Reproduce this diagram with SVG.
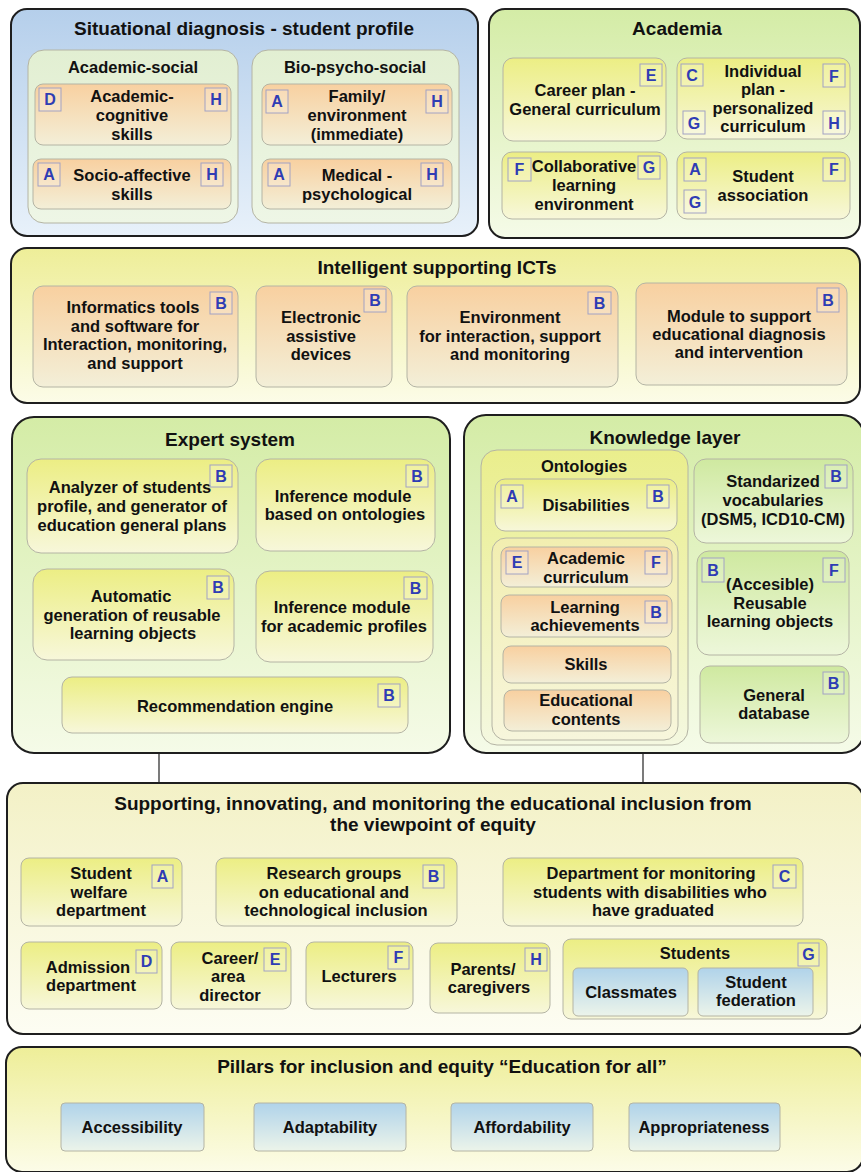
<svg xmlns="http://www.w3.org/2000/svg" width="861" height="1172" viewBox="0 0 861 1172">
  <defs>
    <linearGradient id="gBlue" x1="0" y1="0" x2="0" y2="1"><stop offset="0" stop-color="#b5cfeb"/><stop offset="1" stop-color="#e8f1fa"/></linearGradient>
    <linearGradient id="gPaleGreen" x1="0" y1="0" x2="0" y2="1"><stop offset="0" stop-color="#e2efd2"/><stop offset="1" stop-color="#eef6e6"/></linearGradient>
    <linearGradient id="gOrange" x1="0" y1="0" x2="0" y2="1"><stop offset="0" stop-color="#f8d0a0"/><stop offset="1" stop-color="#f3efd8"/></linearGradient>
    <linearGradient id="gGreen" x1="0" y1="0" x2="0" y2="1"><stop offset="0" stop-color="#d4eca6"/><stop offset="1" stop-color="#f5fbe8"/></linearGradient>
    <linearGradient id="gYellow" x1="0" y1="0" x2="0" y2="1"><stop offset="0" stop-color="#ecee84"/><stop offset="1" stop-color="#f7f7da"/></linearGradient>
    <linearGradient id="gYellowPanel" x1="0" y1="0" x2="0" y2="1"><stop offset="0" stop-color="#eeee98"/><stop offset="1" stop-color="#fcfce8"/></linearGradient>
    <linearGradient id="gPale" x1="0" y1="0" x2="0" y2="1"><stop offset="0" stop-color="#f3f1c6"/><stop offset="1" stop-color="#fdfdf3"/></linearGradient>
    <linearGradient id="gSky" x1="0" y1="0" x2="0" y2="1"><stop offset="0" stop-color="#b0d3ea"/><stop offset="1" stop-color="#ecf4ea"/></linearGradient>
    <linearGradient id="gGreenBox" x1="0" y1="0" x2="0" y2="1"><stop offset="0" stop-color="#cfe9a0"/><stop offset="1" stop-color="#edf7da"/></linearGradient>
    <linearGradient id="gOnto" x1="0" y1="0" x2="0" y2="1"><stop offset="0" stop-color="#eaee8c"/><stop offset="1" stop-color="#f4f8e0"/></linearGradient>
    <linearGradient id="gOntoInner" x1="0" y1="0" x2="0" y2="1"><stop offset="0" stop-color="#f2eeb0"/><stop offset="1" stop-color="#f7f6dc"/></linearGradient>
    <style>
      text { font-family: "Liberation Sans", Arial, sans-serif; font-weight: bold; fill: #111; text-anchor: middle; }
      .panel { stroke: #1e1e1e; stroke-width: 2; }
      .box { stroke: #b4b4a4; stroke-width: 1; }
      .t1 { font-size: 19px; }
      .t2 { font-size: 16.5px; }
      .tx { font-size: 16.5px; }
      .badge { fill: #ffffff; fill-opacity: 0.2; stroke: #a2a2c4; stroke-width: 1; }
      .bl { font-size: 16px; fill: #2f3db4; }
      .link { stroke: #222; stroke-width: 1.2; fill: none; }
    </style>
  </defs>

  <!-- connectors between layers -->
  <g id="connectors">
    <line class="link" x1="159" y1="753" x2="159" y2="783"/>
    <line class="link" x1="643" y1="753" x2="643" y2="783"/>
  </g>

  <!-- Situational diagnosis -->
  <g id="situational">
    <rect class="panel" x="11" y="9" width="467" height="227" rx="16" fill="url(#gBlue)"/>
    <text class="t1" x="244" y="35">Situational diagnosis - student profile</text>
  </g>
  <g id="academic-social">
    <rect class="box" x="28" y="50" width="210" height="173" rx="16" fill="url(#gPaleGreen)"/>
    <text class="t2" x="133" y="73">Academic-social</text>
  </g>
  <g id="academic-cognitive">
    <rect class="box" x="35" y="84" width="196" height="61" rx="8" fill="url(#gOrange)"/>
    <text class="tx" x="132" y="102">Academic-</text>
    <text class="tx" x="132" y="121">cognitive</text>
    <text class="tx" x="132" y="140">skills</text>
    <rect class="badge" x="39" y="88" width="22" height="23"/><text class="bl" x="50" y="105">D</text>
    <rect class="badge" x="205" y="88" width="22" height="23"/><text class="bl" x="216" y="105">H</text>
  </g>
  <g id="socio-affective">
    <rect class="box" x="33" y="159" width="198" height="50" rx="8" fill="url(#gOrange)"/>
    <text class="tx" x="132" y="181">Socio-affective</text>
    <text class="tx" x="132" y="200">skills</text>
    <rect class="badge" x="38" y="163" width="22" height="23"/><text class="bl" x="49" y="180">A</text>
    <rect class="badge" x="201" y="163" width="22" height="23"/><text class="bl" x="212" y="180">H</text>
  </g>
  <g id="bio-psycho-social">
    <rect class="box" x="252" y="50" width="207" height="173" rx="16" fill="url(#gPaleGreen)"/>
    <text class="t2" x="355" y="73">Bio-psycho-social</text>
  </g>
  <g id="family">
    <rect class="box" x="262" y="84" width="190" height="61" rx="8" fill="url(#gOrange)"/>
    <text class="tx" x="357" y="102">Family/</text>
    <text class="tx" x="357" y="121">environment</text>
    <text class="tx" x="357" y="140">(immediate)</text>
    <rect class="badge" x="266" y="90" width="22" height="23"/><text class="bl" x="277" y="107">A</text>
    <rect class="badge" x="426" y="90" width="22" height="23"/><text class="bl" x="437" y="107">H</text>
  </g>
  <g id="medical">
    <rect class="box" x="262" y="159" width="190" height="50" rx="8" fill="url(#gOrange)"/>
    <text class="tx" x="357" y="181">Medical -</text>
    <text class="tx" x="357" y="200">psychological</text>
    <rect class="badge" x="268" y="163" width="22" height="23"/><text class="bl" x="279" y="180">A</text>
    <rect class="badge" x="421" y="163" width="22" height="23"/><text class="bl" x="432" y="180">H</text>
  </g>

  <!-- Academia -->
  <g id="academia">
    <rect class="panel" x="489" y="9" width="371" height="229" rx="16" fill="url(#gGreen)"/>
    <text class="t1" x="677" y="35">Academia</text>
  </g>
  <g id="career-plan">
    <rect class="box" x="503" y="58" width="163" height="83" rx="10" fill="url(#gYellow)"/>
    <text class="tx" x="585" y="96">Career plan -</text>
    <text class="tx" x="585" y="115">General curriculum</text>
    <rect class="badge" x="640" y="64" width="22" height="22"/><text class="bl" x="651" y="81">E</text>
  </g>
  <g id="individual-plan">
    <rect class="box" x="677" y="58" width="173" height="81" rx="10" fill="url(#gYellow)"/>
    <text class="tx" x="763" y="77">Individual</text>
    <text class="tx" x="763" y="95">plan -</text>
    <text class="tx" x="763" y="114">personalized</text>
    <text class="tx" x="763" y="132">curriculum</text>
    <rect class="badge" x="681" y="64" width="22" height="22"/><text class="bl" x="692" y="81">C</text>
    <rect class="badge" x="823" y="64" width="22" height="23"/><text class="bl" x="834" y="82">F</text>
    <rect class="badge" x="683" y="111" width="22" height="23"/><text class="bl" x="694" y="129">G</text>
    <rect class="badge" x="823" y="111" width="22" height="23"/><text class="bl" x="834" y="129">H</text>
  </g>
  <g id="collaborative">
    <rect class="box" x="502" y="152" width="165" height="67" rx="10" fill="url(#gYellow)"/>
    <text class="tx" x="584" y="172">Collaborative</text>
    <text class="tx" x="584" y="191">learning</text>
    <text class="tx" x="584" y="210">environment</text>
    <rect class="badge" x="508" y="158" width="23" height="23"/><text class="bl" x="519.5" y="175">F</text>
    <rect class="badge" x="638" y="156" width="22" height="23"/><text class="bl" x="649" y="173">G</text>
  </g>
  <g id="student-association">
    <rect class="box" x="677" y="152" width="173" height="67" rx="10" fill="url(#gYellow)"/>
    <text class="tx" x="763" y="182">Student</text>
    <text class="tx" x="763" y="201">association</text>
    <rect class="badge" x="684" y="158" width="22" height="23"/><text class="bl" x="695" y="175">A</text>
    <rect class="badge" x="684" y="190" width="22" height="23"/><text class="bl" x="695" y="208">G</text>
    <rect class="badge" x="823" y="158" width="22" height="23"/><text class="bl" x="834" y="175">F</text>
  </g>

  <!-- Intelligent supporting ICTs -->
  <g id="icts">
    <rect class="panel" x="11" y="248" width="849" height="155" rx="16" fill="url(#gYellowPanel)"/>
    <text class="t1" x="437" y="274">Intelligent supporting ICTs</text>
  </g>
  <g id="informatics-tools">
    <rect class="box" x="33" y="286" width="205" height="101" rx="10" fill="url(#gOrange)"/>
    <text class="tx" x="133" y="313">Informatics tools</text>
    <text class="tx" x="135" y="332">and software for</text>
    <text class="tx" x="135" y="350">Interaction, monitoring,</text>
    <text class="tx" x="135" y="369">and support</text>
    <rect class="badge" x="210" y="292" width="22" height="22"/><text class="bl" x="221" y="309">B</text>
  </g>
  <g id="assistive-devices">
    <rect class="box" x="256" y="286" width="136" height="101" rx="10" fill="url(#gOrange)"/>
    <text class="tx" x="321" y="323">Electronic</text>
    <text class="tx" x="321" y="342">assistive</text>
    <text class="tx" x="321" y="360">devices</text>
    <rect class="badge" x="364" y="289" width="22" height="23"/><text class="bl" x="375" y="306">B</text>
  </g>
  <g id="interaction-environment">
    <rect class="box" x="407" y="286" width="211" height="101" rx="10" fill="url(#gOrange)"/>
    <text class="tx" x="510" y="323">Environment</text>
    <text class="tx" x="510" y="342">for interaction, support</text>
    <text class="tx" x="510" y="360">and monitoring</text>
    <rect class="badge" x="588" y="292" width="23" height="22"/><text class="bl" x="599.5" y="309">B</text>
  </g>
  <g id="diagnosis-module">
    <rect class="box" x="636" y="283" width="211" height="102" rx="10" fill="url(#gOrange)"/>
    <text class="tx" x="739" y="322">Module to support</text>
    <text class="tx" x="739" y="340">educational diagnosis</text>
    <text class="tx" x="739" y="358">and intervention</text>
    <rect class="badge" x="817" y="288" width="22" height="24"/><text class="bl" x="828" y="306">B</text>
  </g>

  <!-- Expert system -->
  <g id="expert-system">
    <rect class="panel" x="12" y="417" width="438" height="336" rx="22" fill="url(#gGreen)"/>
    <text class="t1" x="230" y="446">Expert system</text>
  </g>
  <g id="analyzer">
    <rect class="box" x="27" y="459" width="211" height="94" rx="14" fill="url(#gYellow)"/>
    <text class="tx" x="130" y="493">Analyzer of students</text>
    <text class="tx" x="132" y="512">profile, and generator of</text>
    <text class="tx" x="132" y="531">education general plans</text>
    <rect class="badge" x="210" y="465" width="22" height="22"/><text class="bl" x="221" y="482">B</text>
  </g>
  <g id="inference-ontologies">
    <rect class="box" x="256" y="459" width="179" height="92" rx="14" fill="url(#gYellow)"/>
    <text class="tx" x="343" y="502">Inference module</text>
    <text class="tx" x="345" y="520">based on ontologies</text>
    <rect class="badge" x="406" y="465" width="22" height="22"/><text class="bl" x="417" y="482">B</text>
  </g>
  <g id="learning-objects-generation">
    <rect class="box" x="33" y="569" width="201" height="91" rx="14" fill="url(#gYellow)"/>
    <text class="tx" x="131" y="602">Automatic</text>
    <text class="tx" x="132" y="621">generation of reusable</text>
    <text class="tx" x="133" y="639">learning objects</text>
    <rect class="badge" x="207" y="576" width="22" height="23"/><text class="bl" x="218" y="593">B</text>
  </g>
  <g id="inference-academic">
    <rect class="box" x="256" y="571" width="177" height="91" rx="14" fill="url(#gYellow)"/>
    <text class="tx" x="342" y="613">Inference module</text>
    <text class="tx" x="344" y="632">for academic profiles</text>
    <rect class="badge" x="404" y="577" width="23" height="22"/><text class="bl" x="415.5" y="594">B</text>
  </g>
  <g id="recommendation-engine">
    <rect class="box" x="62" y="677" width="346" height="56" rx="10" fill="url(#gYellow)"/>
    <text class="tx" x="235" y="712">Recommendation engine</text>
    <rect class="badge" x="378" y="684" width="22" height="23"/><text class="bl" x="389" y="701">B</text>
  </g>

  <!-- Knowledge layer -->
  <g id="knowledge-layer">
    <rect class="panel" x="464" y="415" width="400" height="338" rx="22" fill="url(#gGreen)"/>
    <text class="t1" x="665" y="444">Knowledge layer</text>
  </g>
  <g id="ontologies">
    <rect class="box" x="481" y="450" width="207" height="295" rx="16" fill="url(#gOnto)"/>
    <text class="t2" x="584" y="472">Ontologies</text>
  </g>
  <g id="disabilities">
    <rect class="box" x="495" y="479" width="182" height="52" rx="10" fill="url(#gYellow)"/>
    <text class="tx" x="586" y="511">Disabilities</text>
    <rect class="badge" x="501" y="485" width="22" height="23"/><text class="bl" x="512" y="502">A</text>
    <rect class="badge" x="647" y="485" width="22" height="23"/><text class="bl" x="658" y="502">B</text>
  </g>
  <g id="academic-ontology">
    <rect class="box" x="492" y="538" width="186" height="202" rx="14" fill="url(#gOntoInner)"/>
  </g>
  <g id="academic-curriculum">
    <rect class="box" x="501" y="547" width="171" height="40" rx="8" fill="url(#gOrange)"/>
    <text class="tx" x="586" y="564">Academic</text>
    <text class="tx" x="586" y="583">curriculum</text>
    <rect class="badge" x="506" y="551" width="22" height="23"/><text class="bl" x="517" y="568">E</text>
    <rect class="badge" x="645" y="551" width="22" height="23"/><text class="bl" x="656" y="568">F</text>
  </g>
  <g id="learning-achievements">
    <rect class="box" x="501" y="595" width="171" height="42" rx="8" fill="url(#gOrange)"/>
    <text class="tx" x="585" y="613">Learning</text>
    <text class="tx" x="585" y="631">achievements</text>
    <rect class="badge" x="645" y="601" width="22" height="22"/><text class="bl" x="656" y="618">B</text>
  </g>
  <g id="skills">
    <rect class="box" x="503" y="646" width="168" height="37" rx="8" fill="url(#gOrange)"/>
    <text class="tx" x="586" y="670">Skills</text>
  </g>
  <g id="educational-contents">
    <rect class="box" x="504" y="690" width="167" height="41" rx="8" fill="url(#gOrange)"/>
    <text class="tx" x="586" y="706">Educational</text>
    <text class="tx" x="586" y="725">contents</text>
  </g>
  <g id="vocabularies">
    <rect class="box" x="694" y="459" width="159" height="84" rx="12" fill="url(#gGreenBox)"/>
    <text class="tx" x="773" y="487">Standarized</text>
    <text class="tx" x="773" y="506">vocabularies</text>
    <text class="tx" x="773" y="525">(DSM5, ICD10-CM)</text>
    <rect class="badge" x="825" y="465" width="22" height="23"/><text class="bl" x="836" y="482">B</text>
  </g>
  <g id="reusable-objects">
    <rect class="box" x="697" y="551" width="152" height="104" rx="12" fill="url(#gGreenBox)"/>
    <text class="tx" x="770" y="590">(Accesible)</text>
    <text class="tx" x="770" y="609">Reusable</text>
    <text class="tx" x="770" y="627">learning objects</text>
    <rect class="badge" x="702" y="558" width="22" height="24"/><text class="bl" x="713" y="576">B</text>
    <rect class="badge" x="823" y="558" width="22" height="24"/><text class="bl" x="834" y="576">F</text>
  </g>
  <g id="general-database">
    <rect class="box" x="700" y="666" width="149" height="77" rx="10" fill="url(#gGreenBox)"/>
    <text class="tx" x="774" y="701">General</text>
    <text class="tx" x="774" y="719">database</text>
    <rect class="badge" x="823" y="672" width="21" height="22"/><text class="bl" x="833.5" y="689">B</text>
  </g>

  <!-- Supporting the educational inclusion -->
  <g id="supporting">
    <rect class="panel" x="7" y="783" width="856" height="251" rx="16" fill="url(#gPale)"/>
    <text class="t1" x="433" y="810">Supporting, innovating, and monitoring the educational inclusion from</text>
    <text class="t1" x="433" y="831">the viewpoint of equity</text>
  </g>
  <g id="student-welfare">
    <rect class="box" x="21" y="858" width="161" height="68" rx="8" fill="url(#gYellow)"/>
    <text class="tx" x="101" y="879">Student</text>
    <text class="tx" x="99" y="898">welfare</text>
    <text class="tx" x="101" y="916">department</text>
    <rect class="badge" x="152" y="865" width="21" height="23"/><text class="bl" x="162.5" y="882">A</text>
  </g>
  <g id="research-groups">
    <rect class="box" x="216" y="858" width="241" height="68" rx="8" fill="url(#gYellow)"/>
    <text class="tx" x="334" y="879">Research groups</text>
    <text class="tx" x="334" y="898">on educational and</text>
    <text class="tx" x="336" y="916">technological inclusion</text>
    <rect class="badge" x="423" y="865" width="21" height="23"/><text class="bl" x="433.5" y="882">B</text>
  </g>
  <g id="graduates-department">
    <rect class="box" x="503" y="858" width="300" height="68" rx="8" fill="url(#gYellow)"/>
    <text class="tx" x="651" y="879">Department for monitoring</text>
    <text class="tx" x="650" y="898">students with disabilities who</text>
    <text class="tx" x="653" y="916">have graduated</text>
    <rect class="badge" x="773" y="865" width="23" height="23"/><text class="bl" x="784.5" y="882">C</text>
  </g>
  <g id="admission">
    <rect class="box" x="21" y="942" width="141" height="67" rx="8" fill="url(#gYellow)"/>
    <text class="tx" x="88" y="973">Admission</text>
    <text class="tx" x="91" y="991">department</text>
    <rect class="badge" x="136" y="950" width="21" height="23"/><text class="bl" x="146.5" y="967">D</text>
  </g>
  <g id="career-director">
    <rect class="box" x="171" y="942" width="120" height="67" rx="8" fill="url(#gYellow)"/>
    <text class="tx" x="230" y="964">Career/</text>
    <text class="tx" x="228" y="982">area</text>
    <text class="tx" x="230" y="1001">director</text>
    <rect class="badge" x="264" y="948" width="22" height="23"/><text class="bl" x="275" y="965">E</text>
  </g>
  <g id="lecturers">
    <rect class="box" x="306" y="942" width="107" height="67" rx="8" fill="url(#gYellow)"/>
    <text class="tx" x="359" y="982">Lecturers</text>
    <rect class="badge" x="388" y="946" width="21" height="23"/><text class="bl" x="398.5" y="963">F</text>
  </g>
  <g id="parents">
    <rect class="box" x="430" y="943" width="120" height="70" rx="8" fill="url(#gYellow)"/>
    <text class="tx" x="483" y="975">Parents/</text>
    <text class="tx" x="489" y="993">caregivers</text>
    <rect class="badge" x="525" y="948" width="22" height="23"/><text class="bl" x="536" y="965">H</text>
  </g>
  <g id="students">
    <rect class="box" x="563" y="939" width="264" height="80" rx="8" fill="url(#gYellow)"/>
    <text class="tx" x="695" y="959">Students</text>
    <rect class="badge" x="798" y="943" width="21" height="23"/><text class="bl" x="808.5" y="960">G</text>
  </g>
  <g id="classmates">
    <rect class="box" x="573" y="968" width="115" height="48" rx="5" fill="url(#gSky)"/>
    <text class="tx" x="631" y="998">Classmates</text>
  </g>
  <g id="student-federation">
    <rect class="box" x="698" y="968" width="115" height="48" rx="5" fill="url(#gSky)"/>
    <text class="tx" x="756" y="988">Student</text>
    <text class="tx" x="756" y="1006">federation</text>
  </g>

  <!-- Pillars -->
  <g id="pillars">
    <rect class="panel" x="6" y="1047" width="857" height="125" rx="16" fill="url(#gYellowPanel)"/>
    <text class="t1" x="442" y="1073">Pillars for inclusion and equity “Education for all”</text>
  </g>
  <g id="accessibility">
    <rect class="box" x="61" y="1103" width="143" height="48" rx="4" fill="url(#gSky)"/>
    <text class="tx" x="132" y="1133">Accessibility</text>
  </g>
  <g id="adaptability">
    <rect class="box" x="254" y="1103" width="152" height="48" rx="4" fill="url(#gSky)"/>
    <text class="tx" x="330" y="1133">Adaptability</text>
  </g>
  <g id="affordability">
    <rect class="box" x="451" y="1103" width="142" height="48" rx="4" fill="url(#gSky)"/>
    <text class="tx" x="522" y="1133">Affordability</text>
  </g>
  <g id="appropriateness">
    <rect class="box" x="629" y="1103" width="151" height="48" rx="4" fill="url(#gSky)"/>
    <text class="tx" x="704" y="1133">Appropriateness</text>
  </g>
</svg>
